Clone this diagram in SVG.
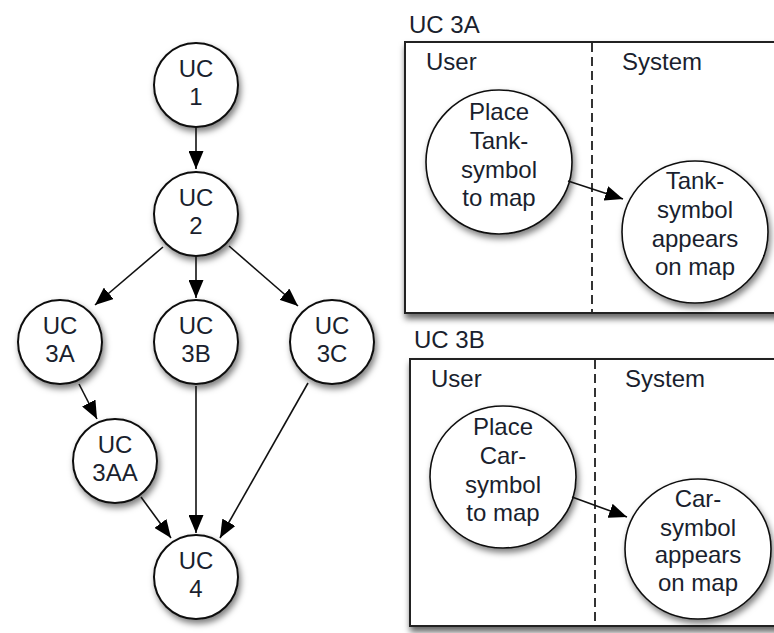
<svg xmlns="http://www.w3.org/2000/svg" width="774" height="633" viewBox="0 0 774 633">
<defs>
<filter id="sh" x="-30%" y="-30%" width="170%" height="170%">
<feDropShadow dx="2" dy="4" stdDeviation="3" flood-color="#000" flood-opacity="0.5"/>
</filter>
<filter id="shb" x="-10%" y="-10%" width="130%" height="130%">
<feDropShadow dx="1" dy="5" stdDeviation="3" flood-color="#000" flood-opacity="0.6"/>
</filter>
<marker id="ah" viewBox="0 0 18 15" refX="18" refY="7.5" markerWidth="18" markerHeight="15" markerUnits="userSpaceOnUse" orient="auto">
<path d="M0,0 L18,7.5 L0,15 Z" fill="#000"/>
</marker>
</defs>
<style>
text{font-family:"Liberation Sans",Arial,sans-serif;font-size:24px;fill:#1a1f2e}
.c text{text-anchor:middle}
.n circle{fill:#fff;stroke:#111;stroke-width:2;filter:url(#sh)}
.b ellipse{fill:#fff;stroke:#111;stroke-width:1.6;filter:url(#sh)}
.box{fill:#fff;stroke:#222;stroke-width:2;filter:url(#shb)}
.dash{stroke:#333;stroke-width:2;stroke-dasharray:9 5;fill:none}
#connectors line{stroke:#111;stroke-width:1.6;marker-end:url(#ah)}
</style>
<rect width="774" height="633" fill="#fff"/>

<g id="frame3A">
<text x="409" y="33">UC 3A</text>
<rect class="box" x="405" y="42" width="400" height="271"/>
<line class="dash" x1="592" y1="43" x2="592" y2="312"/>
<text x="426" y="70">User</text>
<text x="622" y="70">System</text>
</g>
<g id="frame3B">
<text x="414" y="348">UC 3B</text>
<rect class="box" x="410" y="359" width="400" height="267"/>
<line class="dash" x1="595" y1="360" x2="595" y2="625"/>
<text x="431" y="387">User</text>
<text x="625" y="387">System</text>
</g>

<g id="uc1" class="n c"><circle cx="196" cy="85" r="42"/><text x="196" y="77">UC</text><text x="196" y="105">1</text></g>
<g id="uc2" class="n c"><circle cx="196" cy="214" r="42"/><text x="196" y="206">UC</text><text x="196" y="234">2</text></g>
<g id="uc3a" class="n c"><circle cx="60" cy="342" r="42"/><text x="60" y="334">UC</text><text x="60" y="362">3A</text></g>
<g id="uc3b" class="n c"><circle cx="196" cy="342" r="42"/><text x="196" y="334">UC</text><text x="196" y="362">3B</text></g>
<g id="uc3c" class="n c"><circle cx="332" cy="342" r="42"/><text x="332" y="334">UC</text><text x="332" y="362">3C</text></g>
<g id="uc3aa" class="n c"><circle cx="115" cy="461" r="42"/><text x="115" y="453">UC</text><text x="115" y="481">3AA</text></g>
<g id="uc4" class="n c"><circle cx="196" cy="577" r="42"/><text x="196" y="569">UC</text><text x="196" y="597">4</text></g>

<g id="placeTank" class="b c"><ellipse cx="499" cy="162" rx="73" ry="72"/><text x="499" y="120">Place</text><text x="499" y="149">Tank-</text><text x="499" y="178">symbol</text><text x="499" y="206">to map</text></g>
<g id="tankAppears" class="b c"><ellipse cx="695" cy="232" rx="73" ry="71"/><text x="695" y="189">Tank-</text><text x="695" y="218">symbol</text><text x="695" y="247">appears</text><text x="695" y="275">on map</text></g>
<g id="placeCar" class="b c"><ellipse cx="503" cy="477" rx="73" ry="71"/><text x="503" y="435">Place</text><text x="503" y="464">Car-</text><text x="503" y="493">symbol</text><text x="503" y="521">to map</text></g>
<g id="carAppears" class="b c"><ellipse cx="698" cy="549" rx="73" ry="70"/><text x="698" y="507">Car-</text><text x="698" y="536">symbol</text><text x="698" y="563">appears</text><text x="698" y="591">on map</text></g>

<g id="connectors">
<line x1="196" y1="127" x2="196" y2="169"/>
<line x1="163" y1="247" x2="95" y2="305"/>
<line x1="196" y1="256" x2="196" y2="298"/>
<line x1="229" y1="246" x2="298" y2="306"/>
<line x1="79" y1="384" x2="97" y2="419"/>
<line x1="196" y1="386" x2="196" y2="533"/>
<line x1="308" y1="383" x2="220" y2="538"/>
<line x1="141" y1="497" x2="171" y2="538"/>
<line x1="568" y1="181" x2="623" y2="199"/>
<line x1="572" y1="497" x2="627" y2="517"/>
</g>
</svg>
